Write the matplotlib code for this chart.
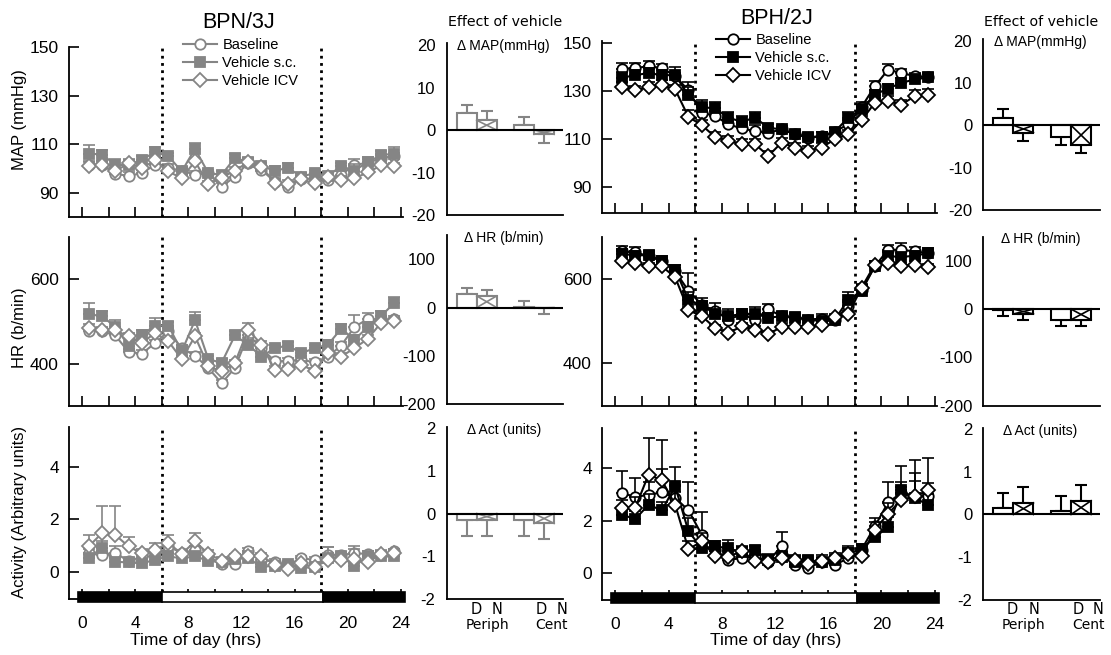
import matplotlib
matplotlib.use("Agg")
import matplotlib.pyplot as plt
from matplotlib.patches import Rectangle

# ---------------- data ----------------
hours = [0.5, 1.5, 2.5, 3.5, 4.5, 5.5, 6.5, 7.5, 8.5, 9.5, 10.5, 11.5,
         12.5, 13.5, 14.5, 15.5, 16.5, 17.5, 18.5, 19.5, 20.5, 21.5, 22.5, 23.5]
series_names = ["Baseline", "Vehicle s.c.", "Vehicle ICV"]

# BPN/3J
bpn_map_base = [101.6, 101.6, 97.8, 97.0, 98.1, 101.6, 100.2, 99.2, 97.4, 98.1, 92.5, 96.7,
                102.3, 99.5, 94.6, 92.5, 95.6, 96.0, 95.3, 97.4, 101.6, 102.3, 104.4, 105.1]
bpn_map_sc = [106.2, 105.8, 101.6, 101.3, 103.7, 106.8, 105.1, 98.8, 108.2, 98.1, 97.4, 104.4,
              102.7, 100.9, 99.2, 100.2, 96.7, 98.1, 97.1, 100.9, 99.2, 102.7, 105.5, 106.2]
bpn_map_icv = [101.2, 101.3, 98.8, 102.3, 100.2, 103.4, 98.8, 96.0, 103.0, 93.5, 96.3, 99.1,
               102.7, 100.6, 94.2, 93.6, 95.6, 93.9, 96.7, 95.3, 96.0, 98.4, 101.3, 100.9]
bpn_map_base_err = [1.5, 1.5, 1.5, 1.5, 1.5, 1.5, 1.5, 1.5, 1.5, 1.5, 1.5, 1.5,
                    1.5, 1.5, 1.5, 1.5, 1.5, 1.5, 1.5, 1.5, 2.5, 1.5, 1.5, 1.5]
bpn_map_sc_err = [3.4, 2.0, 2.2, 2.0, 1.5, 2.0, 1.5, 1.5, 2.5, 1.5, 1.5, 1.5,
                  1.5, 1.5, 2.0, 2.0, 1.5, 1.5, 1.5, 1.5, 2.5, 2.2, 1.8, 2.8]
bpn_map_icv_err = [1.5, 1.5, 1.5, 1.5, 1.5, 1.5, 1.5, 1.5, 1.5, 1.5, 1.5, 1.5,
                   1.5, 1.5, 1.5, 1.5, 1.5, 1.5, 1.5, 1.5, 1.5, 1.5, 1.5, 1.5]

bpn_hr_base = [477, 477, 467, 428, 424, 449, 477, 437, 419, 390, 354, 390,
               469, 437, 406, 406, 410, 403, 417, 443, 487, 506, 505, 505]
bpn_hr_sc = [517, 513, 487, 443, 469, 490, 490, 429, 503, 411, 402, 467,
             445, 417, 437, 443, 425, 437, 445, 483, 457, 487, 513, 544]
bpn_hr_icv = [485, 479, 479, 465, 449, 473, 453, 411, 465, 394, 382, 402,
              481, 445, 386, 387, 398, 382, 425, 417, 437, 459, 497, 501]
bpn_hr_base_err = [8, 8, 8, 8, 8, 8, 8, 8, 8, 8, 8, 8,
                   8, 8, 8, 8, 8, 8, 8, 8, 28, 15, 8, 8]
bpn_hr_sc_err = [27, 12, 17, 18, 10, 18, 8, 15, 20, 8, 10, 10,
                 15, 8, 8, 8, 8, 8, 12, 10, 10, 12, 12, 15]
bpn_hr_icv_err = [8, 8, 8, 8, 8, 8, 8, 8, 8, 8, 8, 8,
                  15, 8, 8, 8, 8, 8, 8, 8, 8, 8, 8, 8]

bpn_act_base = [0.71, 0.65, 0.74, 0.40, 0.59, 0.59, 0.97, 0.72, 0.84, 0.59, 0.31, 0.31,
                0.78, 0.46, 0.39, 0.27, 0.52, 0.46, 0.65, 0.65, 0.71, 0.69, 0.65, 0.78]
bpn_act_sc = [0.52, 0.93, 0.39, 0.36, 0.33, 0.46, 0.59, 0.52, 0.59, 0.43, 0.36, 0.50,
              0.52, 0.20, 0.23, 0.31, 0.14, 0.20, 0.52, 0.59, 0.23, 0.59, 0.59, 0.59]
bpn_act_icv = [0.97, 1.48, 1.41, 0.97, 0.71, 0.84, 1.10, 0.69, 1.16, 0.69, 0.43, 0.59,
               0.59, 0.62, 0.27, 0.10, 0.33, 0.18, 0.46, 0.46, 0.48, 0.36, 0.69, 0.74]
bpn_act_base_err = [0.15, 0.15, 0.25, 0.15, 0.15, 0.15, 0.15, 0.10, 0.15, 0.10, 0.10, 0.10,
                    0.15, 0.10, 0.10, 0.10, 0.10, 0.10, 0.30, 0.10, 0.26, 0.10, 0.10, 0.10]
bpn_act_sc_err = [0.15, 0.23, 0.15, 0.10, 0.10, 0.15, 0.15, 0.10, 0.15, 0.15, 0.10, 0.10,
                  0.15, 0.10, 0.10, 0.10, 0.10, 0.10, 0.10, 0.10, 0.10, 0.10, 0.10, 0.10]
bpn_act_icv_err = [0.45, 1.05, 1.10, 0.35, 0.15, 0.25, 0.32, 0.10, 0.32, 0.15, 0.10, 0.10,
                   0.20, 0.10, 0.10, 0.10, 0.10, 0.10, 0.50, 0.15, 0.40, 0.20, 0.15, 0.15]

# BPH/2J
bph_map_base = [139.3, 139.7, 140.4, 139.7, 136.3, 130.3, 121.0, 119.6, 116.1, 114.4, 113.3, 112.6,
                114.0, 111.9, 110.6, 111.3, 113.1, 116.1, 123.3, 132.1, 139.0, 137.6, 136.3, 135.8]
bph_map_sc = [135.6, 136.7, 137.6, 136.7, 136.7, 128.3, 123.3, 122.8, 118.9, 117.2, 118.9, 114.7,
              114.0, 112.2, 110.8, 110.8, 113.1, 118.9, 122.4, 128.6, 131.1, 133.5, 134.9, 135.8]
bph_map_icv = [131.7, 130.3, 131.7, 132.5, 130.7, 119.2, 115.8, 110.8, 109.2, 107.8, 107.8, 102.9,
               108.5, 106.4, 105.0, 106.4, 109.9, 111.9, 117.8, 125.1, 125.8, 124.4, 127.9, 128.3]
bph_map_base_err = [2.5, 2.2, 2.2, 1.5, 1.5, 3.5, 3.0, 2.0, 2.0, 2.0, 2.5, 2.5,
                    1.5, 1.5, 1.5, 1.5, 1.5, 2.0, 2.0, 2.0, 2.2, 1.5, 1.5, 1.5]
bph_map_sc_err = [2.5, 2.0, 2.0, 2.0, 3.5, 3.5, 2.8, 2.5, 2.5, 2.5, 2.5, 1.5,
                  1.0, 1.5, 1.5, 2.0, 1.5, 2.5, 2.0, 2.0, 2.0, 2.0, 2.0, 2.0]
bph_map_icv_err = [2.0, 2.0, 2.0, 2.0, 2.0, 3.0, 2.0, 2.0, 2.0, 2.0, 2.0, 2.0,
                   2.0, 2.0, 2.0, 2.0, 2.0, 2.0, 2.0, 2.0, 2.0, 2.0, 2.5, 2.5]

bph_hr_base = [665, 663, 654, 642, 618, 572, 539, 524, 504, 516, 504, 528,
               512, 508, 504, 506, 504, 535, 575, 630, 669, 669, 665, 661]
bph_hr_sc = [660, 655, 657, 642, 622, 551, 537, 518, 513, 516, 518, 508,
             512, 510, 504, 500, 504, 551, 571, 630, 654, 652, 655, 661]
bph_hr_icv = [642, 638, 630, 630, 604, 526, 512, 484, 472, 488, 480, 469,
              487, 487, 487, 492, 510, 516, 579, 634, 638, 630, 634, 628]
bph_hr_base_err = [12, 12, 8, 8, 8, 42, 8, 8, 15, 8, 12, 12,
                   8, 8, 8, 12, 8, 10, 10, 8, 12, 15, 10, 8]
bph_hr_sc_err = [10, 10, 10, 12, 12, 18, 18, 25, 15, 12, 15, 12,
                 10, 10, 8, 8, 10, 18, 15, 8, 10, 10, 12, 12]
bph_hr_icv_err = [8, 8, 8, 8, 8, 8, 8, 8, 8, 8, 8, 8,
                  8, 8, 8, 8, 8, 8, 8, 8, 8, 8, 8, 8]

bph_act_base = [3.05, 2.90, 2.98, 3.07, 2.86, 2.39, 1.46, 0.89, 0.51, 0.57, 0.63, 0.44,
                1.04, 0.32, 0.19, 0.44, 0.32, 0.57, 0.89, 1.78, 2.69, 3.05, 2.90, 2.92]
bph_act_sc = [2.22, 2.06, 2.60, 2.39, 3.30, 1.59, 0.95, 1.02, 0.95, 0.79, 0.89, 0.51,
              0.63, 0.44, 0.51, 0.41, 0.51, 0.76, 0.91, 1.37, 1.75, 3.15, 2.86, 2.60]
bph_act_icv = [2.48, 2.48, 3.75, 3.53, 2.60, 0.91, 1.21, 0.66, 0.63, 0.83, 0.48, 0.41,
               0.57, 0.51, 0.36, 0.48, 0.57, 0.74, 0.66, 1.65, 2.26, 2.79, 2.92, 3.15]
bph_act_base_err = [0.85, 0.70, 0.50, 0.90, 0.50, 1.06, 0.85, 0.20, 0.20, 0.30, 0.20, 0.30,
                    0.51, 0.20, 0.15, 0.15, 0.20, 0.35, 0.20, 0.30, 0.76, 0.40, 0.60, 0.50]
bph_act_sc_err = [0.30, 0.30, 0.40, 0.30, 0.74, 0.50, 0.30, 0.20, 0.32, 0.20, 0.15, 0.20,
                  0.20, 0.20, 0.15, 0.15, 0.15, 0.20, 0.20, 0.30, 0.40, 0.91, 1.44, 0.40]
bph_act_icv_err = [0.30, 0.40, 1.39, 1.55, 0.50, 0.30, 0.30, 0.20, 0.20, 0.20, 0.20, 0.20,
                   0.20, 0.20, 0.20, 0.20, 0.20, 0.30, 0.20, 0.30, 0.40, 0.50, 0.90, 1.23]

# Effect of vehicle bars: Periph D, Periph N, Cent D, Cent N
bar_labels = ["D", "N", "D", "N"]
bpn_dmap = [3.9, 2.3, 1.1, -1.0]
bpn_dmap_err = [2.0, 2.1, 2.0, 2.1]
bpn_dhr = [27, 24, 1, -1]
bpn_dhr_err = [13, 12, 13, 13]
bpn_dact = [-0.14, -0.14, -0.14, -0.23]
bpn_dact_err = [0.39, 0.39, 0.39, 0.37]
bph_dmap = [1.8, -1.7, -2.7, -4.6]
bph_dmap_err = [2.0, 2.0, 2.0, 2.0]
bph_dhr = [-2, -10, -22, -22]
bph_dhr_err = [12, 12, 12, 13]
bph_dact = [0.15, 0.27, 0.09, 0.32]
bph_dact_err = [0.34, 0.36, 0.34, 0.36]

# ---------------- styling ----------------
W, H = 1111, 655
plt.rcParams["font.family"] = ["Liberation Sans", "DejaVu Sans"]
plt.rcParams["axes.unicode_minus"] = False
fig = plt.figure(figsize=(W / 100, H / 100), dpi=100)

GRAY = "#858585"
BLACK = "#000000"
LW = 1.3


def px_axes(x0, y0, x1, y1):
    return fig.add_axes([x0 / W, 1 - y1 / H, (x1 - x0) / W, (y1 - y0) / H])


def style_axes(ax):
    for s in ("top", "right"):
        ax.spines[s].set_visible(False)
    for s in ("left", "bottom"):
        ax.spines[s].set_linewidth(LW)


def time_panel(ax, base, sc, icv, base_err, sc_err, icv_err, color, ylim, yticks,
               bottom_row=False):
    style_axes(ax)
    styles = [
        dict(marker="o", mfc="white", ms=7.5),
        dict(marker="s", mfc=color, ms=7.0),
        dict(marker="D", mfc="white", ms=6.8),
    ]
    for k, (vals, errs) in enumerate(((base, base_err), (sc, sc_err), (icv, icv_err))):
        z = 3 + 2 * k
        ax.errorbar(hours, vals, yerr=[[0] * len(errs), errs], fmt="none",
                    ecolor=color, elinewidth=1.2, capsize=4, capthick=1.2, zorder=z)
        ax.plot(hours, vals, color=color, lw=1.5, mec=color, mew=1.3,
                label=series_names[k], zorder=z + 1, **styles[k])
    ax.set_xlim(-1.02, 24.15)
    ax.set_ylim(*ylim)
    ax.set_yticks(yticks)
    ax.set_xticks(list(range(0, 25, 2)))
    ax.tick_params(axis="both", direction="in", length=7, width=1.2, labelsize=12.5,
                   pad=7)
    if bottom_row:
        ax.set_xticklabels([str(h) if h % 4 == 0 else "" for h in range(0, 25, 2)])
        ax.tick_params(axis="x", pad=12)
        # light/dark bar
        for (xa, xb, fc) in ((-0.3, 6.0, "black"), (6.0, 18.15, "white"), (18.15, 24.3, "black")):
            ax.add_patch(Rectangle((xa, ylim[0] + 0.27), xb - xa, -0.38, facecolor=fc,
                                   edgecolor="black", lw=1.2, clip_on=False, zorder=10))
    else:
        ax.set_xticklabels([])
    for xv in (6, 18):
        ax.axvline(xv, color="black", lw=2.0, linestyle=(0, (1, 1.6)), zorder=2)


def bar_panel(ax, vals, errs, color, ylim, yticks, label):
    style_axes(ax)
    pos = [0.98, 1.95, 3.77, 4.75]
    w = 0.97
    for i, (p, v, e) in enumerate(zip(pos, vals, errs)):
        ax.bar(p, v, width=w, facecolor="white", edgecolor=color, lw=1.5, zorder=3)
        if i % 2 == 1:
            ax.plot([p - w / 2, p + w / 2], [0, v], color=color, lw=1.2, zorder=4)
            ax.plot([p - w / 2, p + w / 2], [v, 0], color=color, lw=1.2, zorder=4)
        sgn = 1 if v >= 0 else -1
        ax.errorbar([p], [v], yerr=[[0], [e]] if sgn > 0 else [[e], [0]], fmt="none",
                    ecolor=color, elinewidth=1.5, capsize=4, capthick=1.5, zorder=2)
    ax.axhline(0, color="black", lw=1.5, zorder=5)
    ax.set_xlim(0, 5.67)
    ax.set_ylim(*ylim)
    ax.set_yticks(yticks)
    ax.set_xticks([])
    ax.tick_params(axis="y", length=0, labelsize=12, pad=8)
    ax.text(0.49, 0.985, label, transform=ax.transAxes, ha="center", va="center",
            fontsize=10)


# ---------------- left: BPN/3J ----------------
axL1 = px_axes(68.5, 47, 403, 217)
time_panel(axL1, bpn_map_base, bpn_map_sc, bpn_map_icv, bpn_map_base_err, bpn_map_sc_err,
           bpn_map_icv_err, GRAY, (80, 150.2), [90, 110, 130, 150])
axL2 = px_axes(68.5, 237, 403, 406)
time_panel(axL2, bpn_hr_base, bpn_hr_sc, bpn_hr_icv, bpn_hr_base_err, bpn_hr_sc_err,
           bpn_hr_icv_err, GRAY, (300, 700), [400, 600])
axL3 = px_axes(68.5, 427, 403, 599)
time_panel(axL3, bpn_act_base, bpn_act_sc, bpn_act_icv, bpn_act_base_err, bpn_act_sc_err,
           bpn_act_icv_err, GRAY, (-1.03, 5.52), [0, 2, 4], bottom_row=True)

# ---------------- right: BPH/2J ----------------
axR1 = px_axes(601.7, 41, 936.7, 213)
time_panel(axR1, bph_map_base, bph_map_sc, bph_map_icv, bph_map_base_err, bph_map_sc_err,
           bph_map_icv_err, BLACK, (79, 151), [90, 110, 130, 150])
axR2 = px_axes(601.7, 236.7, 936.7, 405.7)
time_panel(axR2, bph_hr_base, bph_hr_sc, bph_hr_icv, bph_hr_base_err, bph_hr_sc_err,
           bph_hr_icv_err, BLACK, (300, 700), [400, 600])
axR3 = px_axes(601.7, 428, 936.7, 600)
time_panel(axR3, bph_act_base, bph_act_sc, bph_act_icv, bph_act_base_err, bph_act_sc_err,
           bph_act_icv_err, BLACK, (-1.02, 5.52), [0, 2, 4], bottom_row=True)

# legends
for ax, (lx, ly) in ((axL1, (183, 38)), (axR1, (716, 33))):
    ax.legend(loc="upper left", bbox_to_anchor=(lx / W, 1 - ly / H),
              bbox_transform=fig.transFigure, frameon=False, fontsize=10.5,
              handlelength=2.3, handletextpad=0.4, labelspacing=0.28, borderpad=0,
              borderaxespad=0)

# titles / labels
fig.text(239 / W, 1 - 22 / H, "BPN/3J", ha="center", va="center", fontsize=15.5)
fig.text(777 / W, 1 - 18 / H, "BPH/2J", ha="center", va="center", fontsize=15.5)
fig.text(20 / W, 1 - 120 / H, "MAP (mmHg)", rotation=90, ha="center", va="center", fontsize=12)
fig.text(20 / W, 1 - 328 / H, "HR (b/min)", rotation=90, ha="center", va="center", fontsize=12)
fig.text(20 / W, 1 - 512 / H, "Activity (Arbitrary units)", rotation=90, ha="center",
         va="center", fontsize=12)
fig.text(196 / W, 1 - 640 / H, "Time of day (hrs)", ha="center", va="center", fontsize=12.5)
fig.text(776 / W, 1 - 640 / H, "Time of day (hrs)", ha="center", va="center", fontsize=12.5)

# ---------------- small bar panels ----------------
sL1 = px_axes(446.7, 43, 563, 215)
bar_panel(sL1, bpn_dmap, bpn_dmap_err, GRAY, (-20, 20.5), [-20, -10, 0, 10, 20], "\u0394 MAP(mmHg)")
sL2 = px_axes(446.7, 235, 563, 404.3)
bar_panel(sL2, bpn_dhr, bpn_dhr_err, GRAY, (-200, 150), [-200, -100, 0, 100], "\u0394 HR (b/min)")
sL3 = px_axes(446.7, 427, 563, 599.3)
bar_panel(sL3, bpn_dact, bpn_dact_err, GRAY, (-2, 2.02), [-2, -1, 0, 1, 2], "\u0394 Act (units)")

sR1 = px_axes(983.3, 39, 1100, 210)
bar_panel(sR1, bph_dmap, bph_dmap_err, BLACK, (-20, 20.4), [-20, -10, 0, 10, 20], "\u0394 MAP(mmHg)")
sR2 = px_axes(983.3, 236.7, 1100, 405.7)
bar_panel(sR2, bph_dhr, bph_dhr_err, BLACK, (-200, 150), [-200, -100, 0, 100], "\u0394 HR (b/min)")
sR3 = px_axes(983.3, 428, 1100, 600)
bar_panel(sR3, bph_dact, bph_dact_err, BLACK, (-2, 2.02), [-2, -1, 0, 1, 2], "\u0394 Act (units)")

for x0, ytitle in ((446.7, 22), (983.3, 21.7)):
    fig.text((x0 + 58) / W, 1 - ytitle / H, "Effect of vehicle", ha="center", va="center",
             fontsize=10.2, family=["DejaVu Sans"])
    for off, lab in zip((29.3, 50.3, 95, 115), bar_labels):
        fig.text((x0 + off) / W, 1 - 609 / H, lab, ha="center", va="center", fontsize=10.5,
                 family=["DejaVu Sans"])
    fig.text((x0 + 40.3) / W, 1 - 625 / H, "Periph", ha="center", va="center", fontsize=10,
             family=["DejaVu Sans"])
    fig.text((x0 + 105) / W, 1 - 625 / H, "Cent", ha="center", va="center", fontsize=10,
             family=["DejaVu Sans"])

fig.savefig("out.png", dpi=100)
